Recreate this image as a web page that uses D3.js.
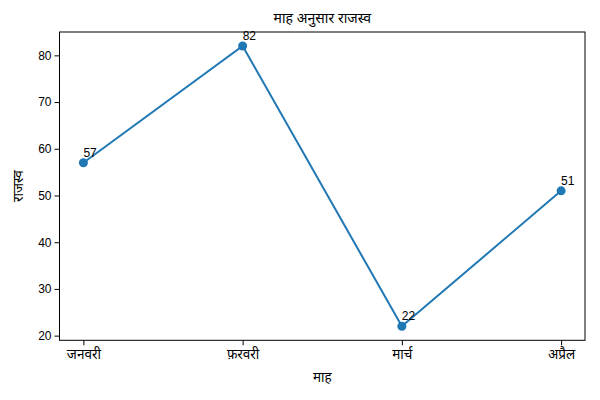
<!DOCTYPE html>
<html>
<head>
<meta charset="utf-8">
<script src="https://cdn.jsdelivr.net/npm/d3@7"></script>
<style>
  body { margin: 0; background: #fff; }
  text { font-family: "Liberation Sans", Arial, "Noto Sans", sans-serif; fill: #000; }
</style>
</head>
<body>
<svg class="chart" width="600" height="400"></svg>
<script>
const months = ['जनवरी', 'फ़रवरी', 'मार्च', 'अप्रैल']
const revenue = [57, 82, 22, 51]
const yTicks = [20, 30, 40, 50, 60, 70, 80]

const svg = d3.select('.chart')
const margin = {top: 32, right: 15, bottom: 60, left: 59.5}
const width = +svg.attr('width')
const height = +svg.attr('height')

const x = d3.scaleLinear()
  .domain([-0.15, months.length - 1 + 0.15])
  .range([margin.left, width - margin.right])

const y = d3.scaleLinear()
  .domain([19, 85])
  .range([height - margin.bottom + 0.3, margin.top])

// axes
const xAxis = d3.axisBottom(x)
  .tickValues(d3.range(months.length))
  .tickFormat(i => months[i])
  .tickSizeOuter(0)
  .tickSize(5)
  .tickPadding(4)

const yAxis = d3.axisLeft(y)
  .tickValues(yTicks)
  .tickSizeOuter(0)
  .tickSize(5)
  .tickPadding(3)

const gx = svg.append('g')
  .attr('transform', `translate(0,${y.range()[0]})`)
  .call(xAxis)
gx.select('.domain').remove()

const gy = svg.append('g')
  .attr('transform', `translate(${margin.left},0)`)
  .call(yAxis)
gy.select('.domain').remove()

svg.selectAll('.tick text').style('font-family', '"Liberation Sans", Arial, "Noto Sans", sans-serif')
gy.selectAll('.tick text').attr('font-size', 12)
gx.selectAll('.tick text').attr('font-size', 13.5)
svg.selectAll('.tick line').attr('stroke', '#000').attr('stroke-width', 1)

// frame
svg.append('rect')
  .attr('x', x.range()[0])
  .attr('y', y.range()[1])
  .attr('width', x.range()[1] - x.range()[0])
  .attr('height', y.range()[0] - y.range()[1])
  .attr('fill', 'none')
  .attr('stroke', '#000')
  .attr('stroke-width', 1)

// line + markers
const line = d3.line()
  .x((d, i) => x(i))
  .y(d => y(d))

svg.append('path')
  .datum(revenue)
  .attr('d', line)
  .attr('fill', 'none')
  .attr('stroke', '#1f77b4')
  .attr('stroke-width', 2)

svg.selectAll('.pt')
  .data(revenue)
  .join('circle')
  .attr('class', 'pt')
  .attr('cx', (d, i) => x(i))
  .attr('cy', d => y(d))
  .attr('r', 4.5)
  .attr('fill', '#1f77b4')

svg.selectAll('.lbl')
  .data(revenue)
  .join('text')
  .attr('class', 'lbl')
  .attr('x', (d, i) => x(i))
  .attr('y', d => y(d) - 6)
  .attr('font-size', 12)
  .text(d => d)

// titles
const cx = (x.range()[0] + x.range()[1]) / 2
svg.append('text')
  .attr('x', cx)
  .attr('y', 23)
  .attr('text-anchor', 'middle')
  .attr('font-size', 14)
  .text('माह अनुसार राजस्व')

svg.append('text')
  .attr('x', cx)
  .attr('y', 382)
  .attr('text-anchor', 'middle')
  .attr('font-size', 13.5)
  .text('माह')

svg.append('text')
  .attr('transform', `translate(23,${(y.range()[0] + y.range()[1]) / 2}) rotate(-90)`)
  .attr('text-anchor', 'middle')
  .attr('font-size', 13.5)
  .text('राजस्व')
</script>
</body>
</html>
